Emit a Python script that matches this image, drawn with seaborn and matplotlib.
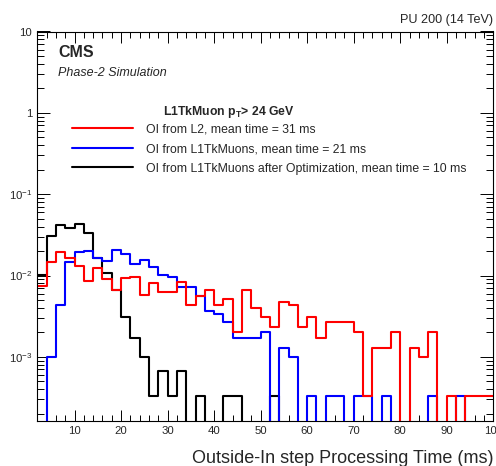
import matplotlib
matplotlib.use("Agg")
import matplotlib.pyplot as plt
import numpy as np
import pandas as pd
import seaborn as sns
from matplotlib.lines import Line2D
from matplotlib.ticker import FixedLocator, FixedFormatter, MultipleLocator, LogLocator, NullFormatter

# ---------------- data ----------------
time_edges = list(range(2, 102, 2))  # 49 bins of 2 ms, 2..100 ms

oi_from_l2 = [0.0075, 0.0148, 0.0194, 0.0165, 0.0130, 0.0085, 0.0123, 0.0091, 0.0066, 0.0092,
              0.0097, 0.0058, 0.0081, 0.0062, 0.0062, 0.0084, 0.0044, 0.0056, 0.0067, 0.0044,
              0.0052, 0.0020, 0.0067, 0.0040, 0.0031, 0.0023, 0.0047, 0.0044, 0.0023, 0.0031,
              0.0017, 0.0027, 0.0027, 0.0027, 0.0020, 0.00033, 0.0013, 0.0013, 0.0020, 0.0,
              0.0013, 0.0010, 0.0020, 0.0, 0.00033, 0.0, 0.00033, 0.00033, 0.00033]

oi_from_l1tk = [0.0, 0.0010, 0.0043, 0.0148, 0.0196, 0.0200, 0.0165, 0.0150, 0.0204, 0.0185,
                0.0137, 0.0153, 0.0127, 0.0102, 0.0097, 0.0072, 0.0072, 0.0056, 0.0037, 0.0034,
                0.0027, 0.0017, 0.0017, 0.0017, 0.0020, 0.0, 0.0013, 0.0010, 0.0, 0.00033,
                0.0, 0.00033, 0.00033, 0.0, 0.00033, 0.00033, 0.0, 0.00033, 0.0, 0.0,
                0.0, 0.0, 0.00033, 0.0, 0.0, 0.00033, 0.0, 0.0, 0.0]

oi_from_l1tk_opt = [0.0102, 0.0306, 0.0423, 0.0380, 0.0427, 0.0330, 0.0165, 0.0106, 0.0067, 0.0031,
                    0.0017, 0.0010, 0.00033, 0.00067, 0.00033, 0.00067, 0.0, 0.00033, 0.0, 0.0,
                    0.00033, 0.00033, 0.0, 0.0, 0.0, 0.00033, 0.0, 0.0, 0.0, 0.0,
                    0.0, 0.0, 0.0, 0.0, 0.0, 0.0, 0.0, 0.0, 0.0, 0.0,
                    0.0, 0.0, 0.0, 0.0, 0.0, 0.0, 0.0, 0.0, 0.0]

series_labels = ["OI from L2, mean time = 31 ms",
                 "OI from L1TkMuons, mean time = 21 ms",
                 "OI from L1TkMuons after Optimization, mean time = 10 ms"]
series_colors = ["#ff0000", "#0000ff", "#000000"]

y_tick_values = [1e-3, 1e-2, 1e-1, 1, 10]
y_tick_labels = [r"$10^{-3}$", r"$10^{-2}$", r"$10^{-1}$", "1", "10"]
x_tick_values = [10, 20, 30, 40, 50, 60, 70, 80, 90, 100]
x_tick_labels = ["10", "20", "30", "40", "50", "60", "70", "80", "90", "100"]

# ---------------- table for seaborn ----------------
centers = [lo + 1 for lo in time_edges[:-1]]
frames = []
for lab, vals in zip(series_labels, [oi_from_l2, oi_from_l1tk, oi_from_l1tk_opt]):
    frames.append(pd.DataFrame({"time": centers, "frac": vals, "algo": lab}))
df = pd.concat(frames, ignore_index=True)

# ---------------- style ----------------
sns.set_style("white")
plt.rcParams["font.family"] = ["Liberation Sans", "DejaVu Sans"]
plt.rcParams["mathtext.fontset"] = "custom"
plt.rcParams["mathtext.rm"] = "Liberation Sans"
plt.rcParams["mathtext.it"] = "Liberation Sans:italic"
plt.rcParams["mathtext.bf"] = "Liberation Sans:bold"

W, H = 496, 466
fig = plt.figure(figsize=(W / 100, H / 100), dpi=100)
ax_l, ax_r, ax_t, ax_b = 37.3, 493.3, 31.5, 420.7
ax = fig.add_axes([ax_l / W, 1 - ax_b / H, (ax_r - ax_l) / W, (ax_b - ax_t) / H])

palette = dict(zip(series_labels, series_colors))
sns.histplot(data=df, x="time", weights="frac", hue="algo", hue_order=series_labels,
             bins=time_edges, element="step", fill=False, palette=palette,
             linewidth=1.5, legend=False, ax=ax)

ax.set_yscale("log")
ax.set_xlim(2, 100)
ax.set_ylim(1.64e-4, 10)

for sp in ax.spines.values():
    sp.set_color("black")
    sp.set_linewidth(0.8)

ax.xaxis.set_major_locator(FixedLocator(x_tick_values))
ax.xaxis.set_major_formatter(FixedFormatter(x_tick_labels))
ax.xaxis.set_minor_locator(MultipleLocator(2))
ax.yaxis.set_major_locator(FixedLocator(y_tick_values))
ax.yaxis.set_major_formatter(FixedFormatter(y_tick_labels))
ax.yaxis.set_minor_locator(LogLocator(base=10, subs=np.arange(2, 10)))
ax.yaxis.set_minor_formatter(NullFormatter())

ax.tick_params(which="both", direction="in", bottom=True, left=True, top=True, right=True,
               color="black", labelsize=8.2, width=0.7)
ax.xaxis.set_tick_params(which="major", length=8, pad=4)
ax.xaxis.set_tick_params(which="minor", length=4)
ax.yaxis.set_tick_params(which="major", length=9.4, pad=3.6)
ax.yaxis.set_tick_params(which="minor", length=5)

ax.set_ylabel("")
ax.set_xlabel("Outside-In step Processing Time (ms)", fontsize=13, loc="right")
ax.xaxis.label.set_va("baseline")
ax.xaxis.set_label_coords(1.0, -(463 - ax_b) / (ax_b - ax_t))

# ---------------- texts ----------------
fig.text(58 / W, 1 - 57.3 / H, "CMS", fontsize=11.5, fontweight="bold", va="baseline")
fig.text(58 / W, 1 - 75.5 / H, "Phase-2 Simulation", fontsize=9, style="italic", va="baseline")
fig.text(493 / W, 1 - 23 / H, "PU 200 (14 TeV)", fontsize=9.1, ha="right", va="baseline")
fig.text(163 / W, 1 - 115 / H, r"L1TkMuon $\mathbf{p}_{\mathbf{T}}$> 24 GeV",
         fontsize=8.8, fontweight="bold", va="baseline")

handles = [Line2D([], [], color=c, lw=1.5) for c in series_colors]
fig.legend(handles, series_labels, loc="upper left",
           bbox_to_anchor=(72 / W, 1 - 123.5 / H), frameon=False, fontsize=8.8,
           handlelength=5.0, handletextpad=1.02, labelspacing=0.62,
           borderpad=0, borderaxespad=0)

fig.savefig("out.png", dpi=100)
